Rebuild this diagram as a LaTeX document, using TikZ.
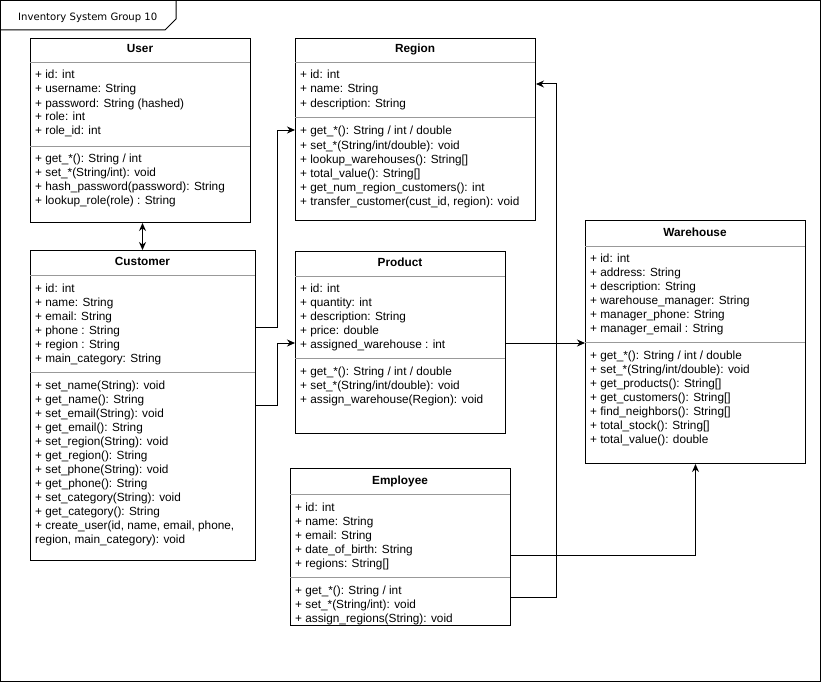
\documentclass[tikz,border=0pt]{standalone}
\usepackage{fontspec}
\setmainfont{Liberation Sans}
\newfontfamily\tabfont{DejaVu Sans}
\usetikzlibrary{arrows.meta}

\tikzset{
  classbox/.style={draw=black, line width=1pt, fill=white, anchor=north west, inner sep=0pt},
  sepline/.style={draw=black!40, line width=1pt},
  txt/.style={anchor=base west, inner sep=0pt, font=\fontsize{11.8}{13}\selectfont},
  ttl/.style={anchor=base, inner sep=0pt, font=\fontsize{11.8}{13}\selectfont\bfseries},
  link/.style={draw=black, line width=1pt, -{Stealth[length=8pt,width=7pt]}},
  frameline/.style={draw=black, line width=1pt},
}

% one text node per line: name prefix, x, first baseline, lines
\newcommand\classlines[4]{%
  \foreach \t [count=\i from 0] in {#4}
    \node[txt] (#1\i) at (#2, #3+14*\i) {\t};}

\begin{document}
\begin{tikzpicture}[x=1pt, y=-1pt]
\useasboundingbox (0,0) rectangle (821,682);
\fill[white] (0,0) rectangle (821,682);

% outer frame with its name tab
\draw[frameline] (0.5,0.5) rectangle (820.5,681.5);
\draw[frameline] (0.5,30) -- (165,30) -- (176,19) -- (176,0.5);
\node[anchor=base west, inner sep=0pt, font=\tabfont\fontsize{10.1}{11}\selectfont] (frametitle) at (18,21) {Inventory System Group 10};

% ---------- User ----------
\node[classbox, minimum width=220pt, minimum height=184pt] (user) at (30,38) {};
\node[ttl] (userT) at (140,53) {User};
\draw[sepline] (30,63) -- (250,63);
\draw[sepline] (30,146) -- (250,146);
\classlines{userA}{35}{79}{{+ id: int},{+ username: String},{+ password: String (hashed)},{+ role: int},{+ role\_id: int}}
\classlines{userM}{35}{162}{{+ get\_*(): String / int},{+ set\_*(String/int): void},{+ hash\_password(password): String},{+ lookup\_role(role) : String}}

% ---------- Region ----------
\node[classbox, minimum width=240pt, minimum height=182pt] (region) at (295,38) {};
\node[ttl] (regionT) at (415,53) {Region};
\draw[sepline] (295,63) -- (535,63);
\draw[sepline] (295,118) -- (535,118);
\classlines{regionA}{300}{79}{{+ id: int},{+ name: String},{+ description: String}}
\classlines{regionM}{300}{135}{{+ get\_*(): String / int / double},{+ set\_*(String/int/double): void},{+ lookup\_warehouses(): String[]},{+ total\_value(): String[]},{+ get\_num\_region\_customers(): int},{+ transfer\_customer(cust\_id, region): void}}

% ---------- Customer ----------
\node[classbox, minimum width=225pt, minimum height=310pt] (cust) at (30,250) {};
\node[ttl] (custT) at (142.5,265) {Customer};
\draw[sepline] (30,275) -- (255,275);
\draw[sepline] (30,372) -- (255,372);
\classlines{custA}{35}{292}{{+ id: int},{+ name: String},{+ email: String},{+ phone : String},{+ region : String},{+ main\_category: String}}
\classlines{custM}{35}{389}{{+ set\_name(String): void},{+ get\_name(): String},{+ set\_email(String): void},{+ get\_email(): String},{+ set\_region(String): void},{+ get\_region(): String},{+ set\_phone(String): void},{+ get\_phone(): String},{+ set\_category(String): void},{+ get\_category(): String},{+ create\_user(id, name, email, phone,},{region, main\_category): void}}

% ---------- Product ----------
\node[classbox, minimum width=210pt, minimum height=182pt] (prod) at (295,251) {};
\node[ttl] (prodT) at (400,266) {Product};
\draw[sepline] (295,276) -- (505,276);
\draw[sepline] (295,358) -- (505,358);
\classlines{prodA}{300}{292}{{+ id: int},{+ quantity: int},{+ description: String},{+ price: double},{+ assigned\_warehouse : int}}
\classlines{prodM}{300}{375}{{+ get\_*(): String / int / double},{+ set\_*(String/int/double): void},{+ assign\_warehouse(Region): void}}

% ---------- Warehouse ----------
\node[classbox, minimum width=220pt, minimum height=243pt] (wh) at (585,220) {};
\node[ttl] (whT) at (695,236) {Warehouse};
\draw[sepline] (585,246) -- (805,246);
\draw[sepline] (585,342) -- (805,342);
\classlines{whA}{590}{262}{{+ id: int},{+ address: String},{+ description: String},{+ warehouse\_manager: String},{+ manager\_phone: String},{+ manager\_email : String}}
\classlines{whM}{590}{359}{{+ get\_*(): String / int / double},{+ set\_*(String/int/double): void},{+ get\_products(): String[]},{+ get\_customers(): String[]},{+ find\_neighbors(): String[]},{+ total\_stock(): String[]},{+ total\_value(): double}}

% ---------- Employee ----------
\node[classbox, minimum width=220pt, minimum height=157pt] (emp) at (290,468) {};
\node[ttl] (empT) at (400,484) {Employee};
\draw[sepline] (290,494) -- (510,494);
\draw[sepline] (290,577) -- (510,577);
\classlines{empA}{295}{511}{{+ id: int},{+ name: String},{+ email: String},{+ date\_of\_birth: String},{+ regions: String[]}}
\classlines{empM}{295}{594}{{+ get\_*(): String / int},{+ set\_*(String/int): void},{+ assign\_regions(String): void}}

% ---------- associations ----------
\draw[link, {Stealth[length=8pt,width=7pt]}-{Stealth[length=8pt,width=7pt]}]
  ([xshift=2pt]user.south) -- ([xshift=2pt]user.south |- cust.north);
\draw[link] ([yshift=-77pt]cust.north east) -- ++(21,0) |- ([yshift=-92pt]region.north west);
\draw[link] ([yshift=-155pt]cust.north east) -- ++(21,0) |- ([yshift=-92pt]prod.north west);
\draw[link] ([yshift=-92pt]prod.north east) -- ([yshift=-92pt]prod.north east -| wh.west);
\draw[link] ([yshift=-129pt]emp.north east) -- ++(45,0) |- ([yshift=-46pt]region.north east);
\draw[link] ([yshift=-87pt]emp.north east) -| (wh.south);

\end{tikzpicture}
\end{document}
